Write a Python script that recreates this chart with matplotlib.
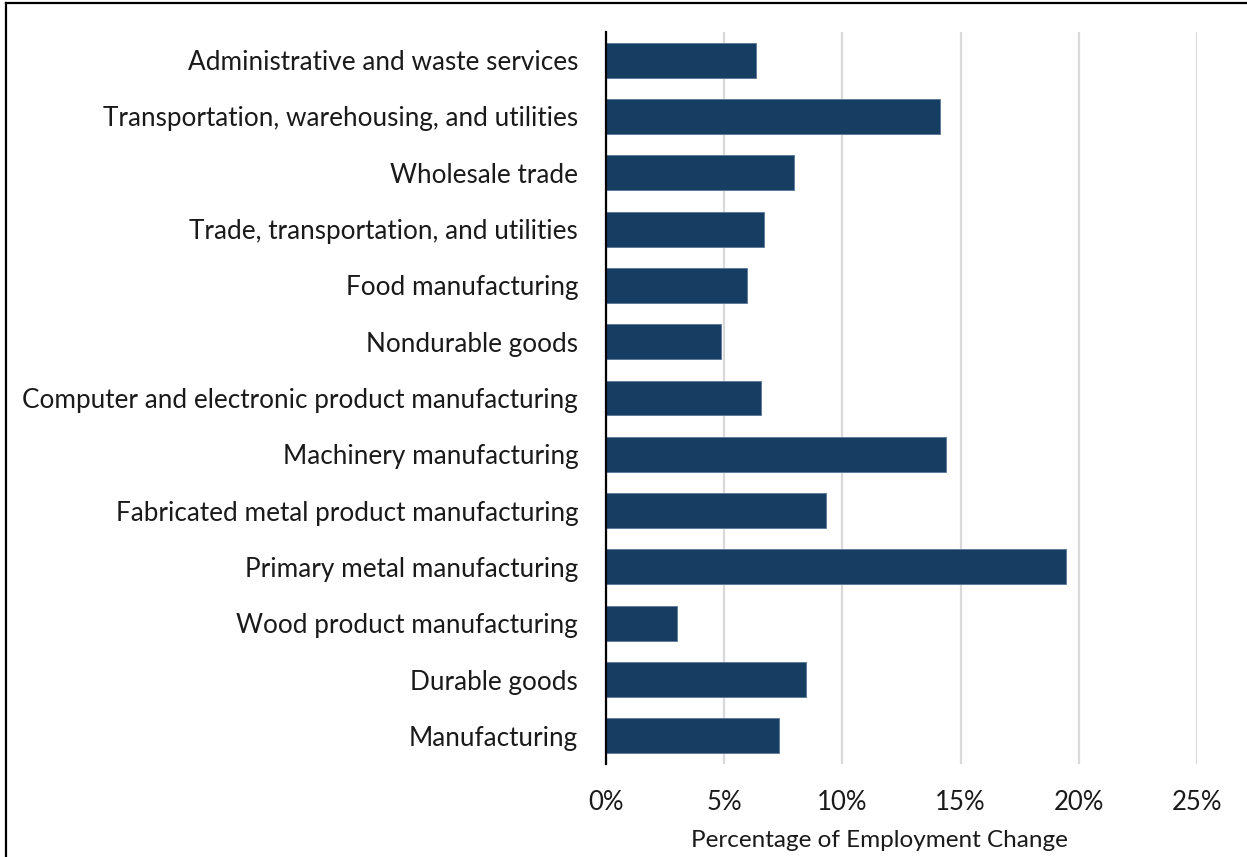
import matplotlib
matplotlib.use("Agg")
import matplotlib.pyplot as plt
from matplotlib.lines import Line2D
from matplotlib.ticker import FuncFormatter

# Employment change by industry (percent)
industries = [
    "Administrative and waste services",
    "Transportation, warehousing, and utilities",
    "Wholesale trade",
    "Trade, transportation, and utilities",
    "Food manufacturing",
    "Nondurable goods",
    "Computer and electronic product manufacturing",
    "Machinery manufacturing",
    "Fabricated metal product manufacturing",
    "Primary metal manufacturing",
    "Wood product manufacturing",
    "Durable goods",
    "Manufacturing",
]
change_pct = [6.33, 14.11, 7.94, 6.67, 5.95, 4.86, 6.55, 14.37, 9.30, 19.45, 3.00, 8.46, 7.32]
x_ticks = [0, 5, 10, 15, 20, 25]
x_label = "Percentage of Employment Change"

plt.rcParams["font.family"] = ["Lato", "DejaVu Sans"]

W, H = 1247, 857
fig = plt.figure(figsize=(W / 100, H / 100), dpi=100)
ax = fig.add_axes([606 / W, 1 - 764 / H, (1197 - 606) / W, (764 - 32) / H])

pos = list(range(len(industries)))
ax.barh(pos, change_pct, height=0.62, color="#183d63",
        edgecolor="#5f7d9b", linewidth=0.7, zorder=3)

ax.set_ylim(len(industries) - 0.5, -0.5)
ax.set_yticks(pos)
ax.set_yticklabels(industries, fontsize=18.8, color="#1a1a1a")

ax.set_xlim(0, 25)
ax.set_xticks(x_ticks)
ax.xaxis.set_major_formatter(FuncFormatter(lambda v, _: f"{v:.0f}%"))
ax.tick_params(axis="x", labelsize=18.5, colors="#1a1a1a", length=0, pad=19)
ax.tick_params(axis="y", length=0, pad=20)

ax.grid(axis="x", color="#d9d9d9", linewidth=1.6, zorder=0)
for side in ("top", "right", "bottom"):
    ax.spines[side].set_visible(False)
ax.spines["left"].set_color("#000000")
ax.spines["left"].set_linewidth(1.6)
ax.spines["left"].set_zorder(4)

ax.set_xlabel(x_label, fontsize=17.5, color="#1a1a1a")
ax.xaxis.set_label_coords(0.462, -0.09)

# Frame lines along the left and top edges of the figure
fig.add_artist(Line2D([6 / W, 6 / W], [0, 1 - 3 / H], color="black", linewidth=1.6))
fig.add_artist(Line2D([6 / W, 1], [1 - 3 / H, 1 - 3 / H], color="black", linewidth=1.6))

fig.savefig("out.png", dpi=100, facecolor="white")
